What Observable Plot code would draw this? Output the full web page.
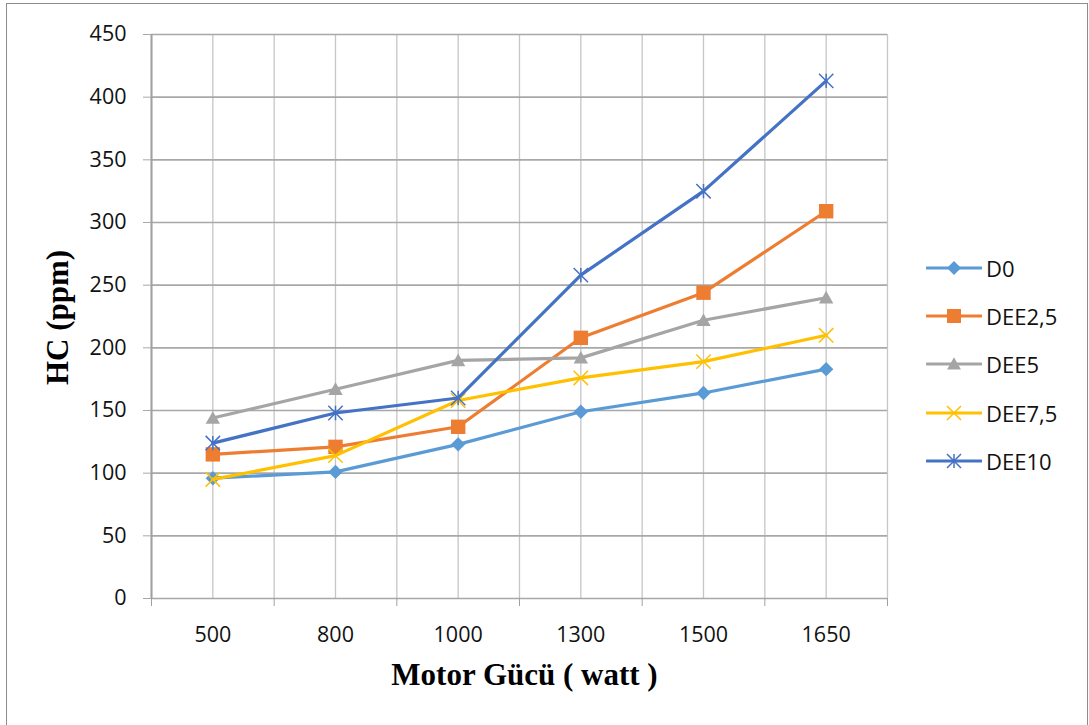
<!DOCTYPE html>
<html>
<head>
<meta charset="utf-8">
<script src="https://cdn.jsdelivr.net/npm/d3@7"></script>
<script src="https://cdn.jsdelivr.net/npm/@observablehq/plot@0.6"></script>
<style>
  html, body { margin: 0; padding: 0; background: #fff; }
  #wrap { position: relative; width: 1089px; height: 725px; overflow: hidden; }
  #border { position: absolute; left: 6px; top: 3px; width: 1080px; height: 740px; border: 1.5px solid #8c8c8c; pointer-events: none; }
  #legend { position: absolute; left: 926px; top: 244px; font-family: "Open Sans", sans-serif; font-size: 22px; color: #111; }
  .li { display: flex; align-items: center; height: 48.2px; }
  .li svg { display: block; margin-right: 4px; }
</style>
</head>
<body>
<div id="wrap"><div id="chart"></div><div id="legend"></div><div id="border"></div></div>
<script>
// ---- data ----
const categories = ["500", "800", "1000", "1300", "1500", "1650"];
const seriesNames = ["D0", "DEE2,5", "DEE5", "DEE7,5", "DEE10"];
const D0      = [96, 101, 123, 149, 164, 183];
const DEE2_5  = [115, 121, 137, 208, 244, 309];
const DEE5    = [144, 167, 190, 192, 222, 240];
const DEE7_5  = [95, 114, 158, 176, 189, 210];
const DEE10   = [124, 148, 160, 258, 325, 413];
const seriesValues = [D0, DEE2_5, DEE5, DEE7_5, DEE10];
const seriesColors = ["#5B9BD5", "#ED7D31", "#A5A5A5", "#FFC000", "#4472C4"];
const yTicks = [0, 50, 100, 150, 200, 250, 300, 350, 400, 450];
const xTitle = "Motor Gücü ( watt )";
const yTitle = "HC (ppm)";

// ---- custom marker symbols (Excel-like) ----
const rad = s => Math.sqrt(s / Math.PI);
const symDiamond = { draw(c, s) { const r = rad(s); c.moveTo(0, -r); c.lineTo(r, 0); c.lineTo(0, r); c.lineTo(-r, 0); c.closePath(); } };
const symSquare = { draw(c, s) { const r = rad(s); c.moveTo(-r, -r); c.lineTo(r, -r); c.lineTo(r, r); c.lineTo(-r, r); c.closePath(); } };
const symTriangle = { draw(c, s) { const r = rad(s); c.moveTo(0, -r * 0.95); c.lineTo(r, r * 0.8); c.lineTo(-r, r * 0.8); c.closePath(); } };
const symTimes = { draw(c, s) { const r = rad(s); c.moveTo(-r, -r); c.lineTo(r, r); c.moveTo(r, -r); c.lineTo(-r, r); } };
const symAsterisk = { draw(c, s) { const r = rad(s); c.moveTo(-r, -r); c.lineTo(r, r); c.moveTo(r, -r); c.lineTo(-r, r); c.moveTo(0, -r); c.lineTo(0, r); } };
const seriesSymbols = [symDiamond, symSquare, symTriangle, symTimes, symAsterisk];
const seriesFilled = [true, true, true, false, false];

// ---- table ----
const data = seriesNames.flatMap((name, s) =>
  seriesValues[s].map((v, i) => ({ series: name, s, pos: i + 0.5, cat: categories[i], value: v })));
const n = categories.length;
const boundaries = d3.range(0, n + 1);
const centers = d3.range(0, n).map(i => i + 0.5);
const vGrid = d3.range(0, n + 0.5, 0.5);

const seriesMarks = seriesNames.flatMap((name, s) => {
  const rows = data.filter(d => d.s === s);
  return [
    Plot.line(rows, { x: "pos", y: "value", stroke: seriesColors[s], strokeWidth: 3.2, strokeLinejoin: "round", strokeLinecap: "round" }),
    Plot.dot(rows, seriesFilled[s]
      ? { x: "pos", y: "value", r: 7.2, symbol: seriesSymbols[s], fill: seriesColors[s], stroke: "none" }
      : { x: "pos", y: "value", r: 7.2, symbol: seriesSymbols[s], fill: "none", stroke: seriesColors[s], strokeWidth: 1.5 })
  ];
});

const chart = Plot.plot({
  width: 1089,
  height: 725,
  marginLeft: 151,
  marginRight: 202,
  marginTop: 34,
  marginBottom: 127,
  style: { fontFamily: "Open Sans, sans-serif", fontSize: "21px", background: "#fff", color: "#111", overflow: "visible" },
  x: { type: "linear", domain: [0, n] },
  y: { domain: [0, 450] },
  marks: [
    Plot.ruleX(vGrid, { stroke: "#c6c6c6", strokeWidth: 1.3 }),
    Plot.ruleY(yTicks, { stroke: "#a8a8a8", strokeWidth: 1.6 }),
    Plot.ruleX([0], { stroke: "#a0a0a0", strokeWidth: 2 }),
    Plot.axisY({ ticks: yTicks, tickSize: 8, tickPadding: 17, stroke: "#a8a8a8", fill: "#111", fontSize: 21.5, label: null, tickFormat: d => String(d) }),
    Plot.axisX({ ticks: boundaries, tickSize: 8, stroke: "#a0a0a0", tickFormat: () => "", label: null }),
    Plot.axisX({ ticks: centers, tickSize: 0, tickPadding: 28, fill: "#111", fontSize: 21.5, label: null, tickFormat: d => categories[Math.floor(d)] }),
    ...seriesMarks,
    Plot.text([yTitle], { frameAnchor: "left", textAnchor: "middle", lineAnchor: "middle", text: d => d, rotate: -90, dx: -93, dy: 1, fontFamily: "Liberation Serif, Times New Roman, serif", fontWeight: "bold", fontSize: 31, fill: "#000" }),
    Plot.text([xTitle], { frameAnchor: "bottom", textAnchor: "middle", lineAnchor: "middle", text: d => d, dy: 77, dx: 5, fontFamily: "Liberation Serif, Times New Roman, serif", fontWeight: "bold", fontSize: 31, fill: "#000" })
  ]
});
document.getElementById("chart").appendChild(chart);

// ---- legend ----
const legend = d3.select("#legend");
seriesNames.forEach((name, s) => {
  const row = legend.append("div").attr("class", "li");
  const svg = row.append("svg").attr("width", 56).attr("height", 20);
  svg.append("line").attr("x1", 1).attr("x2", 55).attr("y1", 10).attr("y2", 10)
    .attr("stroke", seriesColors[s]).attr("stroke-width", 3.2).attr("stroke-linecap", "round");
  const p = svg.append("path").attr("transform", "translate(28,10)")
    .attr("d", d3.symbol(seriesSymbols[s], Math.PI * 49)());
  if (seriesFilled[s]) p.attr("fill", seriesColors[s]);
  else p.attr("fill", "none").attr("stroke", seriesColors[s]).attr("stroke-width", 1.5);
  row.append("span").text(name);
});
</script>
</body>
</html>
